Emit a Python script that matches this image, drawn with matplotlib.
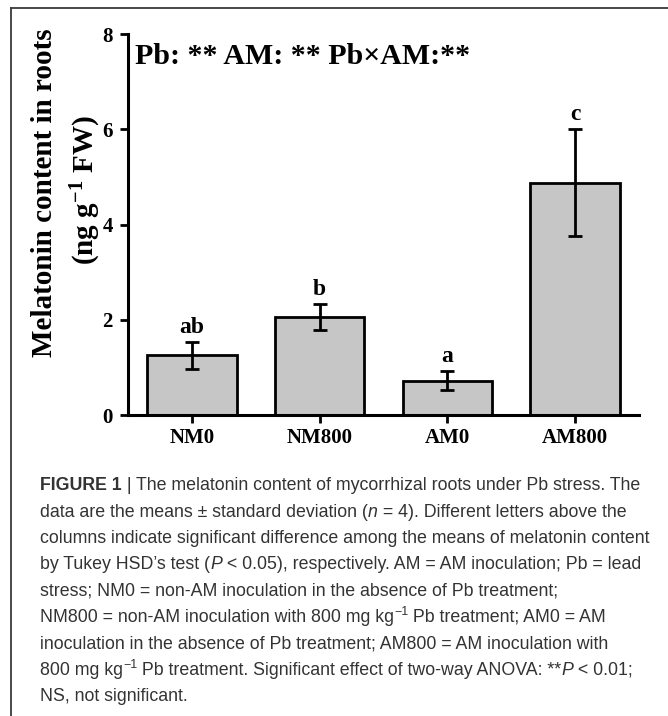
import numpy as np
import matplotlib
matplotlib.use("Agg")
import matplotlib.pyplot as plt
from matplotlib.lines import Line2D
from matplotlib import font_manager

# data
groups = ["NM0", "NM800", "AM0", "AM800"]
means = [1.25, 2.06, 0.72, 4.88]
sds = [0.29, 0.28, 0.20, 1.12]
letters = ["ab", "b", "a", "c"]
stat_text = "Pb: ** AM: ** Pb\u00d7AM:**"

plt.rcParams["mathtext.fontset"] = "custom"
plt.rcParams["mathtext.rm"] = "Liberation Serif:bold"
plt.rcParams["mathtext.bf"] = "Liberation Serif:bold"
plt.rcParams["mathtext.it"] = "Liberation Serif:bold"
plt.rcParams["mathtext.default"] = "rm"

W, H = 668, 716
fig = plt.figure(figsize=(W / 100, H / 100), dpi=100)

serif = ["Liberation Serif", "DejaVu Serif"]
names = set(f.name for f in font_manager.fontManager.ttflist)
if "Liberation Sans Narrow" in names:
    cap_font, cap_size = ["Liberation Sans Narrow", "DejaVu Sans"], 15
else:
    cap_font, cap_size = ["Liberation Sans", "DejaVu Sans"], 12.8

# main axes, placed in pixel terms
x0, x1, ytop, ybot = 128, 639, 34, 415
ax = fig.add_axes([x0 / W, 1 - ybot / H, (x1 - x0) / W, (ybot - ytop) / H])

xpos = np.arange(len(groups))
ax.bar(xpos, means, width=0.7, color="#c6c6c6", edgecolor="black", linewidth=2, zorder=2)
ax.errorbar(xpos, means, yerr=sds, fmt="none", ecolor="black", elinewidth=2,
            capsize=5, capthick=2, zorder=3)
for i in range(len(groups)):
    ax.text(xpos[i], means[i] + sds[i] + 0.08, letters[i], ha="center", va="bottom",
            family=serif, fontweight="bold", fontsize=17)

ax.set_xlim(-0.5, 3.5)
ax.set_ylim(0, 8)
ax.set_yticks([0, 2, 4, 6, 8])
ax.set_xticks(xpos)
ax.set_xticklabels(groups)
for lab in ax.get_xticklabels() + ax.get_yticklabels():
    lab.set_family(serif)
    lab.set_fontweight("bold")
    lab.set_fontsize(15)
ax.tick_params(axis="both", direction="out", length=6, width=2, pad=3)
ax.tick_params(axis="y", pad=5)
for s in ["top", "right"]:
    ax.spines[s].set_visible(False)
for s in ["left", "bottom"]:
    ax.spines[s].set_linewidth(2.2)

fig.text(135 / W, 1 - 56 / H, stat_text, family=serif, fontweight="bold",
         fontsize=21.5, va="center", ha="left")

# y label, two lines
fig.text(44 / W, 1 - 193 / H, "Melatonin content in roots", rotation=90,
         family=serif, fontweight="bold", fontsize=21, ha="center", va="center")
fig.text(86 / W, 1 - 190 / H, r"(ng g$^{-1}$ FW)", rotation=90,
         family=serif, fontweight="bold", fontsize=21, ha="center", va="center")

# frame lines of the figure panel
fig.add_artist(Line2D([11 / W, 11 / W], [0, 1 - 8 / H], transform=fig.transFigure,
                      color="#3a3a3a", linewidth=1.3))
fig.add_artist(Line2D([11 / W, 1], [1 - 8 / H, 1 - 8 / H], transform=fig.transFigure,
                      color="#3a3a3a", linewidth=1.3))

# caption, drawn piece by piece
caption = [
    [("FIGURE 1", "b"), (" | ", "n"), ("The melatonin content of mycorrhizal roots under Pb stress. The", "n")],
    [("data are the means \u00b1 standard deviation (", "n"), ("n", "i"), (" = 4). Different letters above the", "n")],
    [("columns indicate significant difference among the means of melatonin content", "n")],
    [("by Tukey HSD\u2019s test (", "n"), ("P", "i"), (" < 0.05), respectively. AM = AM inoculation; Pb = lead", "n")],
    [("stress; NM0 = non-AM inoculation in the absence of Pb treatment;", "n")],
    [("NM800 = non-AM inoculation with 800 mg kg", "n"), ("\u22121", "s"), (" Pb treatment; AM0 = AM", "n")],
    [("inoculation in the absence of Pb treatment; AM800 = AM inoculation with", "n")],
    [("800 mg kg", "n"), ("\u22121", "s"), (" Pb treatment. Significant effect of two-way ANOVA: **", "n"),
     ("P", "i"), (" < 0.01;", "n")],
    [("NS, not significant.", "n")],
]
renderer = fig.canvas.get_renderer()
y = 486
for line in caption:
    x = 40
    for txt, st in line:
        kw = dict(family=cap_font, fontsize=cap_size, color="#333333", va="center", ha="left")
        yy = y
        if st == "b":
            kw["fontweight"] = "bold"
        if st == "i":
            kw["style"] = "italic"
        if st == "s":
            kw["fontsize"] = cap_size * 0.7
            yy = y - 5
        t = fig.text(x / W, 1 - yy / H, txt, **kw)
        bb = t.get_window_extent(renderer)
        x = bb.x1
    y += 26.3

fig.savefig("out.png", dpi=100)
